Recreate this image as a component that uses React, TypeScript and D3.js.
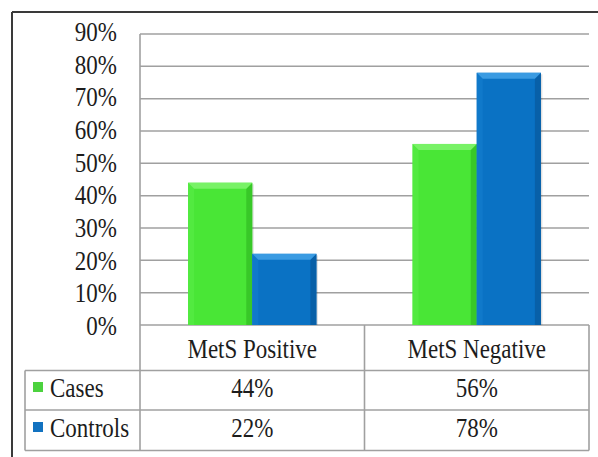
import React from "react";
import * as d3 from "d3";

const categories = ["MetS Positive", "MetS Negative"];
const seriesNames = ["Cases", "Controls"];
const casesValues = [44, 56];
const controlsValues = [22, 78];
const yTicks = [0, 10, 20, 30, 40, 50, 60, 70, 80, 90];

const colors = [
  { main: "#49e636", top: "#78f266", left: "#52ea40", right: "#38c828", legend: "#4cd23e" },
  { main: "#0a72c4", top: "#3a9be2", left: "#1079ca", right: "#0860a8", legend: "#1272c0" },
];

export default function App() {
  const W = 598, H = 457;
  const plotLeft = 140, plotRight = 589;
  const plotTop = 34, plotBottom = 325;
  const tableLeft = 25;
  const headerBottom = 370.5, row1Bottom = 410, row2Bottom = 450.5;
  const fontStyle = { fontFamily: "'Liberation Serif', 'Times New Roman', Times, serif" };
  const fs = 23;
  const sy = 1.15;
  const textColor = "#1c1c1c";

  const y = d3.scaleLinear().domain([0, 90]).range([plotBottom, plotTop]);
  const yLabel = d3.scaleLinear().domain([0, 90]).range([335, 41]);
  const x0 = d3.scaleBand().domain(categories).range([plotLeft, plotRight]).paddingInner(0).paddingOuter(0);
  const bw = x0.bandwidth() / 3.5;
  const series = [casesValues, controlsValues];
  const bev = 6;

  const T = (key: string, x: number, yb: number, s: string, anchor: string = "start") => (
    <text key={key} transform={`translate(${x},${yb}) scale(1,${sy})`} textAnchor={anchor} style={fontStyle} fontSize={fs} fill={textColor}>
      {s}
    </text>
  );

  const bars: React.ReactNode[] = [];
  categories.forEach((c, ci) => {
    const groupStart = (x0(c) as number) + (x0.bandwidth() - 2 * bw) / 2;
    series.forEach((vals, si) => {
      const x = groupStart + si * bw;
      const yt = y(vals[ci]);
      const yb = plotBottom;
      const col = colors[si];
      bars.push(
        <g key={`${ci}-${si}`}>
          <rect x={x + 1.5} y={yt + 1.5} width={bw} height={yb - yt - 1.5} fill="#000" opacity={0.12} />
          <rect x={x} y={yt} width={bw} height={yb - yt} fill={col.main} />
          <polygon points={`${x},${yt} ${x + bev},${yt + bev} ${x + bev},${yb} ${x},${yb}`} fill={col.left} />
          <polygon points={`${x + bw},${yt} ${x + bw - bev},${yt + bev} ${x + bw - bev},${yb} ${x + bw},${yb}`} fill={col.right} />
          <polygon points={`${x},${yt} ${x + bw},${yt} ${x + bw - bev},${yt + bev} ${x + bev},${yt + bev}`} fill={col.top} />
        </g>
      );
    });
  });

  const midCol = (x0(categories[1]) as number);
  const rowBaselines = [397, 437];
  const lineColor = "#a0a0a0";

  return (
    <svg width={W} height={H} style={{ position: "absolute", left: 0, top: 0 }}>
      <rect x={0} y={0} width={W} height={H} fill="#fff" />
      <line x1={12} y1={12} x2={W} y2={12} stroke="#3a3a3a" strokeWidth={2} />
      <line x1={12} y1={12} x2={12} y2={H} stroke="#3a3a3a" strokeWidth={2} />
      {yTicks.map((t) => (
        <line key={t} x1={plotLeft} x2={plotRight} y1={y(t)} y2={y(t)} stroke={lineColor} strokeWidth={1.5} />
      ))}
      {yTicks.map((t) => T("l" + t, 117, yLabel(t), `${t}%`, "end"))}
      {bars}
      <g stroke={lineColor} strokeWidth={1.6} fill="none">
        <line x1={plotLeft} x2={plotLeft} y1={plotTop} y2={row2Bottom} />
        <line x1={midCol} x2={midCol} y1={plotBottom} y2={row2Bottom} />
        <line x1={plotRight} x2={plotRight} y1={plotBottom} y2={row2Bottom} />
        <line x1={tableLeft} x2={tableLeft} y1={headerBottom} y2={row2Bottom} />
        <line x1={tableLeft} x2={plotRight} y1={headerBottom} y2={headerBottom} />
        <line x1={tableLeft} x2={plotRight} y1={row1Bottom} y2={row1Bottom} />
        <line x1={tableLeft} x2={plotRight} y1={row2Bottom} y2={row2Bottom} />
      </g>
      {categories.map((c) => T(c, (x0(c) as number) + x0.bandwidth() / 2, 358, c, "middle"))}
      {seriesNames.map((s, si) => (
        <g key={s}>
          <rect x={33} y={rowBaselines[si] - 15} width={10} height={10} fill={colors[si].legend} />
          {T("n" + s, 50, rowBaselines[si], s)}
          {categories.map((c, ci) => T(c + s, (x0(c) as number) + x0.bandwidth() / 2, rowBaselines[si], `${series[si][ci]}%`, "middle"))}
        </g>
      ))}
    </svg>
  );
}
